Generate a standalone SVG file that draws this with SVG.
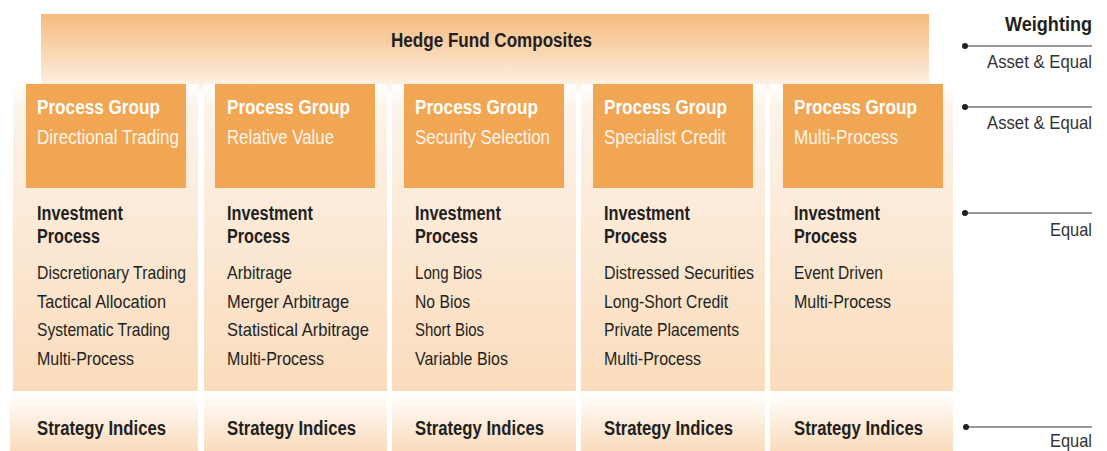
<svg xmlns="http://www.w3.org/2000/svg" width="1107" height="451" viewBox="0 0 1107 451">
<defs>
<linearGradient id="gBanner" x1="0" y1="0" x2="0" y2="1">
<stop offset="0" stop-color="#F5BB7E"/>
<stop offset="0.8" stop-color="#FCEBDA"/>
<stop offset="1" stop-color="#FFFFFF"/>
</linearGradient>
<linearGradient id="gCol" x1="0" y1="0" x2="0" y2="1">
<stop offset="0" stop-color="#FFFFFF"/>
<stop offset="0.08" stop-color="#FDF3E9"/>
<stop offset="1" stop-color="#FADCBC"/>
</linearGradient>
<linearGradient id="gStrat" x1="0" y1="0" x2="0" y2="1">
<stop offset="0" stop-color="#FFFFFF"/>
<stop offset="1" stop-color="#FADCBC"/>
</linearGradient>
<style>
text{font-family:"Liberation Sans",Arial,sans-serif;}
.col{fill:url(#gCol);}
.strat{fill:url(#gStrat);}
.box{fill:#F1A654;}
.hd{font-size:20px;font-weight:bold;fill:#FFFFFF;}
.sub{font-size:20px;fill:#FFF4E8;}
.bh{font-size:19.5px;font-weight:bold;fill:#231F20;}
.it{font-size:19px;fill:#231F20;}
.wl{stroke:#333333;stroke-width:1.2;fill:none;}
.dot{fill:#231F20;}
.wt{font-size:19px;fill:#333333;}
</style>
</defs>
<rect x="0" y="0" width="1107" height="451" fill="#FFFFFF"/>
<g id="banner">
<rect x="41" y="14" width="888" height="82" fill="url(#gBanner)"/>
<text x="391" y="47" class="bh" style="font-size:20px" textLength="201" lengthAdjust="spacingAndGlyphs">Hedge Fund Composites</text>
</g>
<g id="col1">
<rect class="col" x="13" y="84" width="185" height="307"/>
<rect class="strat" x="10" y="391" width="188" height="60"/>
<rect class="box" x="26" y="84" width="160" height="104"/>
<text class="hd" x="37" y="114" textLength="123" lengthAdjust="spacingAndGlyphs">Process Group</text>
<text class="sub" x="37" y="144" textLength="142" lengthAdjust="spacingAndGlyphs">Directional Trading</text>
<text class="bh" x="37" y="220" textLength="86" lengthAdjust="spacingAndGlyphs">Investment</text>
<text class="bh" x="37" y="243" textLength="63" lengthAdjust="spacingAndGlyphs">Process</text>
<text class="it" x="37" y="279" textLength="149" lengthAdjust="spacingAndGlyphs">Discretionary Trading</text>
<text class="it" x="37" y="308" textLength="129" lengthAdjust="spacingAndGlyphs">Tactical Allocation</text>
<text class="it" x="37" y="336" textLength="133" lengthAdjust="spacingAndGlyphs">Systematic Trading</text>
<text class="it" x="37" y="365" textLength="97" lengthAdjust="spacingAndGlyphs">Multi-Process</text>
<text class="bh" x="37" y="435" textLength="129" lengthAdjust="spacingAndGlyphs">Strategy Indices</text>
</g>
<g id="col2">
<rect class="col" x="204" y="84" width="183" height="307"/>
<rect class="strat" x="204" y="391" width="183" height="60"/>
<rect class="box" x="215" y="84" width="160" height="104"/>
<text class="hd" x="227" y="114" textLength="123" lengthAdjust="spacingAndGlyphs">Process Group</text>
<text class="sub" x="227" y="144" textLength="107" lengthAdjust="spacingAndGlyphs">Relative Value</text>
<text class="bh" x="227" y="220" textLength="86" lengthAdjust="spacingAndGlyphs">Investment</text>
<text class="bh" x="227" y="243" textLength="63" lengthAdjust="spacingAndGlyphs">Process</text>
<text class="it" x="227" y="279" textLength="65" lengthAdjust="spacingAndGlyphs">Arbitrage</text>
<text class="it" x="227" y="308" textLength="122" lengthAdjust="spacingAndGlyphs">Merger Arbitrage</text>
<text class="it" x="227" y="336" textLength="142" lengthAdjust="spacingAndGlyphs">Statistical Arbitrage</text>
<text class="it" x="227" y="365" textLength="97" lengthAdjust="spacingAndGlyphs">Multi-Process</text>
<text class="bh" x="227" y="435" textLength="129" lengthAdjust="spacingAndGlyphs">Strategy Indices</text>
</g>
<g id="col3">
<rect class="col" x="392" y="84" width="184" height="307"/>
<rect class="strat" x="392" y="391" width="184" height="60"/>
<rect class="box" x="404" y="84" width="160" height="104"/>
<text class="hd" x="415" y="114" textLength="123" lengthAdjust="spacingAndGlyphs">Process Group</text>
<text class="sub" x="415" y="144" textLength="135" lengthAdjust="spacingAndGlyphs">Security Selection</text>
<text class="bh" x="415" y="220" textLength="86" lengthAdjust="spacingAndGlyphs">Investment</text>
<text class="bh" x="415" y="243" textLength="63" lengthAdjust="spacingAndGlyphs">Process</text>
<text class="it" x="415" y="279" textLength="67" lengthAdjust="spacingAndGlyphs">Long Bios</text>
<text class="it" x="415" y="308" textLength="55" lengthAdjust="spacingAndGlyphs">No Bios</text>
<text class="it" x="415" y="336" textLength="69" lengthAdjust="spacingAndGlyphs">Short Bios</text>
<text class="it" x="415" y="365" textLength="93" lengthAdjust="spacingAndGlyphs">Variable Bios</text>
<text class="bh" x="415" y="435" textLength="129" lengthAdjust="spacingAndGlyphs">Strategy Indices</text>
</g>
<g id="col4">
<rect class="col" x="581" y="84" width="184" height="307"/>
<rect class="strat" x="581" y="391" width="184" height="60"/>
<rect class="box" x="593" y="84" width="160" height="104"/>
<text class="hd" x="604" y="114" textLength="123" lengthAdjust="spacingAndGlyphs">Process Group</text>
<text class="sub" x="604" y="144" textLength="122" lengthAdjust="spacingAndGlyphs">Specialist Credit</text>
<text class="bh" x="604" y="220" textLength="86" lengthAdjust="spacingAndGlyphs">Investment</text>
<text class="bh" x="604" y="243" textLength="63" lengthAdjust="spacingAndGlyphs">Process</text>
<text class="it" x="604" y="279" textLength="150" lengthAdjust="spacingAndGlyphs">Distressed Securities</text>
<text class="it" x="604" y="308" textLength="124" lengthAdjust="spacingAndGlyphs">Long-Short Credit</text>
<text class="it" x="604" y="336" textLength="135" lengthAdjust="spacingAndGlyphs">Private Placements</text>
<text class="it" x="604" y="365" textLength="97" lengthAdjust="spacingAndGlyphs">Multi-Process</text>
<text class="bh" x="604" y="435" textLength="129" lengthAdjust="spacingAndGlyphs">Strategy Indices</text>
</g>
<g id="col5">
<rect class="col" x="770" y="84" width="183" height="307"/>
<rect class="strat" x="770" y="391" width="183" height="60"/>
<rect class="box" x="783" y="84" width="160" height="104"/>
<text class="hd" x="794" y="114" textLength="123" lengthAdjust="spacingAndGlyphs">Process Group</text>
<text class="sub" x="794" y="144" textLength="104" lengthAdjust="spacingAndGlyphs">Multi-Process</text>
<text class="bh" x="794" y="220" textLength="86" lengthAdjust="spacingAndGlyphs">Investment</text>
<text class="bh" x="794" y="243" textLength="63" lengthAdjust="spacingAndGlyphs">Process</text>
<text class="it" x="794" y="279" textLength="89" lengthAdjust="spacingAndGlyphs">Event Driven</text>
<text class="it" x="794" y="308" textLength="97" lengthAdjust="spacingAndGlyphs">Multi-Process</text>
<text class="bh" x="794" y="435" textLength="129" lengthAdjust="spacingAndGlyphs">Strategy Indices</text>
</g>
<g id="weighting">
<text x="1005" y="31" class="bh" style="font-size:20px" textLength="87" lengthAdjust="spacingAndGlyphs">Weighting</text>
<text class="wt" x="987" y="68" textLength="105" lengthAdjust="spacingAndGlyphs">Asset &amp; Equal</text>
<text class="wt" x="987" y="129" textLength="105" lengthAdjust="spacingAndGlyphs">Asset &amp; Equal</text>
<text class="wt" x="1050" y="236" textLength="42" lengthAdjust="spacingAndGlyphs">Equal</text>
<text class="wt" x="1050" y="447" textLength="42" lengthAdjust="spacingAndGlyphs">Equal</text>
</g>
<g id="connectors">
<line class="wl" x1="965" y1="46" x2="1092" y2="46"/>
<circle class="dot" cx="965" cy="46" r="3"/>
<line class="wl" x1="965" y1="107" x2="1092" y2="107"/>
<circle class="dot" cx="965" cy="107" r="3"/>
<line class="wl" x1="965" y1="213" x2="1092" y2="213"/>
<circle class="dot" cx="965" cy="213" r="3"/>
<line class="wl" x1="966" y1="427" x2="1092" y2="427"/>
<circle class="dot" cx="966" cy="427" r="3"/>
</g>
</svg>
